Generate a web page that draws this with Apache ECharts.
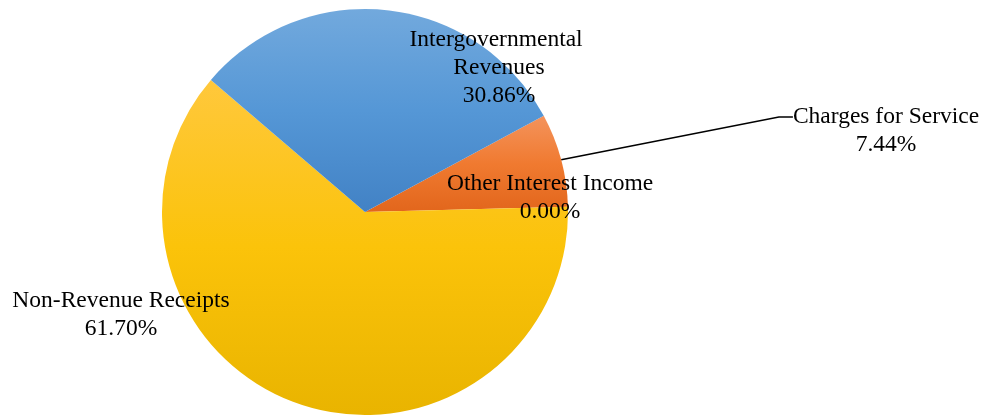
<!DOCTYPE html>
<html>
<head>
<meta charset="utf-8">
<script src="https://cdn.jsdelivr.net/npm/echarts@6/dist/echarts.min.js"></script>
<style>
html,body{margin:0;padding:0;background:#fff;}
#chart{width:988px;height:416px;}
</style>
</head>
<body>
<div id="chart"></div>
<script>
// Data (percent of total)
const categories = ['Charges for Service', 'Other Interest Income', 'Non-Revenue Receipts', 'Intergovernmental Revenues'];
const values = [7.44, 0.00, 61.70, 30.86];

const grad = (c1, c2, c3) => new echarts.graphic.LinearGradient(0, 0, 0, 1, [
  {offset: 0, color: c1}, {offset: 0.5, color: c2}, {offset: 1, color: c3}
]);
const fills = [
  grad('#F4935C', '#F07A30', '#E2661C'),
  grad('#F4935C', '#F07A30', '#E2661C'),
  grad('#FFC83C', '#FBC30A', '#E9B400'),
  grad('#72A9DD', '#5597D6', '#4282C5')
];
// label block centres (layout only)
const labelPos = [[886, 117], [550, 198], [121, 315], [499, 68]];

const chart = echarts.init(document.getElementById('chart'), null, {renderer: 'canvas'});
chart.setOption({
  animation: false,
  series: [{
    type: 'pie',
    center: [365, 212],
    radius: 203,
    startAngle: 28.3,
    clockwise: true,
    avoidLabelOverlap: false,
    itemStyle: {borderWidth: 0},
    label: {
      show: true,
      position: 'outside',
      fontFamily: 'Liberation Serif',
      fontSize: 23.5,
      lineHeight: 28,
      color: '#000',
      align: 'center',
      formatter: p => (p.dataIndex === 0 ? ' \n' : '') + p.name + '\n' + p.value.toFixed(2) + '%'
    },
    labelLine: {show: false},
    labelLayout: p => ({
      x: labelPos[p.dataIndex][0],
      y: labelPos[p.dataIndex][1],
      align: 'center',
      verticalAlign: 'middle'
    }),
    data: categories.map((name, i) => {
      const d = {name, value: values[i], itemStyle: {color: fills[i]}};
      if (i === 0) {
        d.labelLine = {show: true, length: 10, length2: 14, lineStyle: {color: '#000', width: 1.5}};
      }
      if (i === 3) {
        d.label = {width: 190, overflow: 'break'};
      }
      return d;
    })
  }]
});
</script>
</body>
</html>
